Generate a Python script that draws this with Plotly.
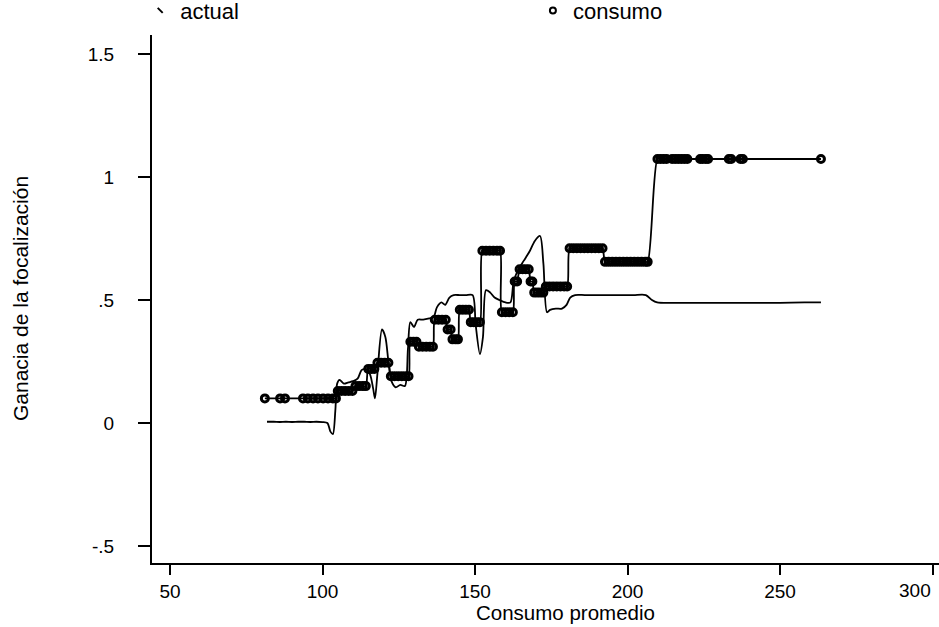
import plotly.graph_objects as go

# Targeting gain by average consumption: "consumo" rule (circles) and "actual" rule (line)
consumo_x = [
    81.1, 86.1, 87.7, 93.6, 95.2, 96.9, 98.5, 100.2, 101.8, 103.4, 104.4,
    105.0, 106.2, 107.4, 108.6, 109.8,
    110.8, 112.0, 113.2, 114.2,
    115.0, 116.0, 117.0,
    118.0, 119.2, 120.4, 121.6,
    122.4, 123.6, 124.8, 126.0, 127.2, 128.2,
    128.8, 129.8, 130.8,
    131.6, 132.8, 134.0, 135.2, 136.2,
    136.8, 138.0, 139.2, 140.4,
    141.0, 142.0,
    142.6, 143.6, 144.4,
    145.0, 146.0, 147.0, 148.0,
    148.6, 149.6, 150.6, 151.6,
    152.4, 153.6, 154.8, 156.0, 157.2, 158.2,
    158.8, 160.0, 161.2, 162.4,
    163.0, 163.8,
    164.6, 165.6, 166.6, 167.6,
    168.2, 168.8,
    169.4, 170.4, 171.4, 172.4,
    173.2, 174.4, 175.6, 176.8, 178.0, 179.2, 180.2,
    181.0, 182.2, 183.4, 184.6, 185.8, 187.0, 188.2, 189.4, 190.6, 191.8,
    192.6, 193.8, 195.0, 196.2, 197.4, 198.6, 199.8, 201.0, 202.2, 203.4, 204.6, 205.8, 206.6,
    209.8, 210.8, 211.8, 212.8, 214.6, 215.6, 216.6, 217.6, 218.6, 219.6,
    223.8, 224.6, 225.6, 226.4, 233.2, 234.0, 237.0, 237.8, 263.4,
]
consumo_y = [
    0.10, 0.10, 0.10, 0.10, 0.10, 0.10, 0.10, 0.10, 0.10, 0.10, 0.10,
    0.13, 0.13, 0.13, 0.13, 0.13,
    0.15, 0.15, 0.15, 0.15,
    0.22, 0.22, 0.22,
    0.245, 0.245, 0.245, 0.245,
    0.19, 0.19, 0.19, 0.19, 0.19, 0.19,
    0.33, 0.33, 0.33,
    0.31, 0.31, 0.31, 0.31, 0.31,
    0.42, 0.42, 0.42, 0.42,
    0.38, 0.38,
    0.34, 0.34, 0.34,
    0.46, 0.46, 0.46, 0.46,
    0.41, 0.41, 0.41, 0.41,
    0.70, 0.70, 0.70, 0.70, 0.70, 0.70,
    0.45, 0.45, 0.45, 0.45,
    0.575, 0.575,
    0.625, 0.625, 0.625, 0.625,
    0.575, 0.575,
    0.53, 0.53, 0.53, 0.53,
    0.555, 0.555, 0.555, 0.555, 0.555, 0.555, 0.555,
    0.71, 0.71, 0.71, 0.71, 0.71, 0.71, 0.71, 0.71, 0.71, 0.71,
    0.655, 0.655, 0.655, 0.655, 0.655, 0.655, 0.655, 0.655, 0.655, 0.655, 0.655, 0.655, 0.655,
    1.073, 1.073, 1.073, 1.073, 1.073, 1.073, 1.073, 1.073, 1.073, 1.073,
    1.073, 1.073, 1.073, 1.073, 1.073, 1.073, 1.073, 1.073, 1.073,
]

actual_x = [
    81.8, 84.0, 86.0, 88.0, 90.0, 92.0, 94.0, 96.0, 98.0, 100.0, 101.6,
    102.6, 103.4, 104.2, 104.8, 105.6, 107.0, 108.5, 110.0, 111.5, 112.8,
    114.0, 115.5, 116.6, 117.2, 118.0, 119.5, 120.6, 121.6, 122.6, 124.0,
    125.5, 127.0, 128.0, 128.8, 130.0, 131.2, 133.0, 135.0, 136.4, 137.5,
    139.0, 140.2, 141.6, 143.0, 145.0, 147.0, 149.2, 150.2, 151.6, 152.6,
    153.6, 155.0, 156.4, 158.0, 160.0, 161.6, 162.6, 164.0, 166.0, 168.0,
    169.6, 171.3, 172.4, 173.6, 174.6, 176.5, 178.5, 180.0, 181.2, 182.8,
    186.0, 190.0, 194.0, 198.0, 202.0, 206.0, 208.0, 209.7, 215.0, 222.0,
    230.0, 240.0, 250.0, 258.0, 263.4,
]
actual_y = [
    0.005, 0.005, 0.004, 0.005, 0.004, 0.005, 0.005, 0.004, 0.005, 0.004, 0.0,
    -0.035, -0.045, 0.05, 0.16, 0.175, 0.16, 0.165, 0.17, 0.18, 0.215,
    0.22, 0.20, 0.14, 0.10, 0.20, 0.38, 0.35, 0.25, 0.17, 0.145,
    0.155, 0.15, 0.30, 0.41, 0.39, 0.42, 0.42, 0.425, 0.43, 0.47,
    0.49, 0.48, 0.51, 0.52, 0.52, 0.52, 0.52, 0.40, 0.28, 0.35,
    0.54, 0.53, 0.51, 0.50, 0.49, 0.49, 0.57, 0.62, 0.66, 0.70,
    0.74, 0.76, 0.65, 0.45, 0.46, 0.465, 0.465, 0.48, 0.51, 0.52,
    0.52, 0.52, 0.52, 0.52, 0.52, 0.52, 0.50, 0.49, 0.488, 0.488,
    0.488, 0.488, 0.488, 0.49, 0.49,
]

x_ticks = [50, 100, 150, 200, 250, 300]
x_tick_text = ["50", "100", "150", "200", "250", ""]
last_x_tick = "300"
y_ticks = [-0.5, 0, 0.5, 1, 1.5]
y_tick_text = ["-.5", "0", ".5", "1", "1.5"]

FONT = "Liberation Sans, Arial, sans-serif"

fig = go.Figure()

fig.add_trace(go.Scatter(
    x=actual_x, y=actual_y, mode="lines",
    line=dict(color="black", width=1.8, shape="spline", smoothing=0.8),
    showlegend=False, hoverinfo="skip",
))
fig.add_trace(go.Scatter(
    x=consumo_x, y=consumo_y, mode="lines+markers",
    line=dict(color="black", width=1.8, shape="spline", smoothing=0.8),
    marker=dict(symbol="circle-open", size=7, color="black", line=dict(width=3, color="black")),
    showlegend=False, hoverinfo="skip",
))

# legend keys (marker only)
fig.add_trace(go.Scatter(
    x=[None], y=[None], mode="markers", name="actual", legend="legend",
    marker=dict(symbol="line-nw", size=5, color="black", line=dict(width=2, color="black")),
))
fig.add_trace(go.Scatter(
    x=[None], y=[None], mode="markers", name="consumo", legend="legend2",
    marker=dict(symbol="circle-open", size=6, color="black", line=dict(width=2, color="black")),
))

axis_common = dict(
    showgrid=False, zeroline=False, showline=True, linecolor="black", linewidth=2,
    ticks="outside", tickcolor="black", tickwidth=1.5,
    tickfont=dict(family=FONT, size=19, color="black"),
)

fig.update_layout(
    width=939, height=627,
    margin=dict(l=152, r=0, t=35, b=64, pad=0, autoexpand=False),
    paper_bgcolor="white", plot_bgcolor="white",
    font=dict(family=FONT, color="black"),
    xaxis=dict(range=[44.1, 302.1], tickvals=x_ticks, ticktext=x_tick_text,
               ticklen=10, **axis_common),
    yaxis=dict(range=[-0.569, 1.577], tickvals=y_ticks, ticktext=y_tick_text,
               ticklen=12, ticklabelstandoff=20, **axis_common),
    legend=dict(orientation="h", x=-0.015, xanchor="left", y=1.086, yanchor="top",
                bgcolor="rgba(0,0,0,0)", font=dict(family=FONT, size=22, color="black")),
    legend2=dict(orientation="h", x=0.484, xanchor="left", y=1.086, yanchor="top",
                 bgcolor="rgba(0,0,0,0)", font=dict(family=FONT, size=22, color="black")),
    annotations=[
        # last x tick label, kept inside the page
        dict(text=last_x_tick, xref="x", yref="paper", x=x_ticks[-1], y=0,
             xanchor="right", yanchor="top", yshift=-15, showarrow=False,
             font=dict(family=FONT, size=19, color="black")),
        dict(text="Consumo promedio", xref="paper", yref="paper", x=0.526, y=-0.094,
             xanchor="center", yanchor="middle", showarrow=False,
             font=dict(family=FONT, size=20.5, color="black")),
        dict(text="Ganacia de la focalización", xref="paper", yref="paper", x=-0.1677, y=0.5,
             xanchor="center", yanchor="middle", textangle=-90, showarrow=False,
             font=dict(family=FONT, size=21, color="black")),
    ],
)

fig.write_html("out.html")
